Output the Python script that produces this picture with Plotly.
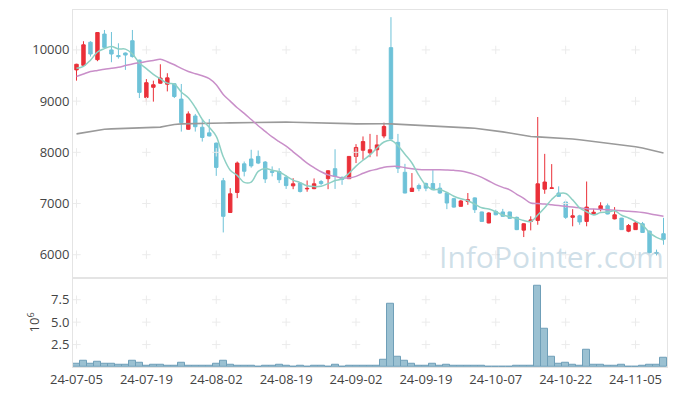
import plotly.graph_objects as go
import pandas as pd

dates = ["24-07-05", "24-07-08", "24-07-09", "24-07-10", "24-07-11", "24-07-12",
         "24-07-15", "24-07-16", "24-07-17", "24-07-18", "24-07-19",
         "24-07-22", "24-07-23", "24-07-24", "24-07-25", "24-07-26",
         "24-07-29", "24-07-30", "24-07-31", "24-08-01", "24-08-02",
         "24-08-05", "24-08-06", "24-08-07", "24-08-08", "24-08-09",
         "24-08-12", "24-08-13", "24-08-14", "24-08-16",
         "24-08-19", "24-08-20", "24-08-21", "24-08-22", "24-08-23",
         "24-08-26", "24-08-27", "24-08-28", "24-08-29", "24-08-30",
         "24-09-02", "24-09-03", "24-09-04", "24-09-05", "24-09-06",
         "24-09-09", "24-09-10", "24-09-11", "24-09-12", "24-09-13",
         "24-09-19", "24-09-20", "24-09-23", "24-09-24", "24-09-25",
         "24-09-26", "24-09-27", "24-09-30", "24-10-02", "24-10-04",
         "24-10-07", "24-10-08", "24-10-10", "24-10-11",
         "24-10-14", "24-10-15", "24-10-16", "24-10-17", "24-10-18",
         "24-10-21", "24-10-22", "24-10-23", "24-10-24", "24-10-25",
         "24-10-28", "24-10-29", "24-10-30", "24-10-31", "24-11-01",
         "24-11-04", "24-11-05", "24-11-06", "24-11-07", "24-11-08", "24-11-11"]

open_ = [9610, 9700, 10150, 9810, 10310, 10000, 9890, 9940, 10180, 9800,
         9070, 9270, 9350, 9330, 9340, 9040, 8450, 8710, 8490, 8380,
         8180, 7445, 6825, 7215, 7775, 7870, 7920, 7810, 7630, 7625,
         7515, 7345, 7400, 7285, 7290, 7430, 7485, 7680, 7510, 7485,
         7920, 8040, 7990, 8050, 8320, 10045, 8195, 7610, 7235, 7350,
         7390, 7390, 7300, 7205, 7095, 6945, 7040, 7110, 6835, 6620,
         6845, 6835, 6835, 6730, 6480, 6650, 6670, 7280, 7295, 7205,
         7030, 6730, 6760, 6650, 6795, 6890, 6955, 6700, 6715, 6460,
         6490, 6605, 6460, 6045, 6410]
high = [9730, 10170, 10170, 10350, 10390, 10350, 10130, 9950, 10390, 9810,
        9430, 9400, 9720, 9545, 9350, 9335, 8800, 8750, 8640, 8650,
        8190, 7500, 7300, 7820, 7820, 8050, 8035, 7830, 7725, 7690,
        7550, 7495, 7420, 7450, 7490, 7460, 7650, 8060, 7530, 7925,
        8160, 8310, 8360, 8340, 8580, 10640, 8360, 7775, 7595, 7390,
        7410, 7660, 7400, 7230, 7110, 7070, 7205, 7120, 6840, 6830,
        6880, 6895, 6840, 6745, 6615, 6750, 8690, 7970, 7770, 7335,
        7040, 6890, 6780, 7430, 6895, 7025, 7000, 6930, 6720, 6600,
        6640, 6640, 6470, 6100, 6720]
low = [9400, 9680, 9870, 9780, 10040, 9760, 9830, 9610, 9850, 9060,
       8985, 8990, 9340, 9190, 9060, 8405, 8440, 8405, 8210, 8310,
       7540, 6435, 6820, 7105, 7530, 7700, 7770, 7400, 7530, 7400,
       7285, 7280, 7215, 7230, 7280, 7360, 7280, 7285, 7365, 7480,
       7790, 7855, 7905, 7920, 8275, 8250, 7595, 7200, 7225, 7240,
       7240, 7260, 7190, 6890, 6920, 6940, 6975, 6815, 6640, 6615,
       6770, 6745, 6705, 6480, 6345, 6475, 6585, 7190, 7290, 7130,
       6700, 6555, 6585, 6555, 6790, 6845, 6790, 6690, 6485, 6440,
       6485, 6430, 6030, 5985, 6195]
close = [9720, 10100, 9920, 10340, 10050, 9920, 9870, 9900, 9870, 9170,
         9360, 9320, 9450, 9455, 9090, 8580, 8750, 8500, 8290, 8320,
         7705, 6750, 7190, 7790, 7630, 7735, 7790, 7480, 7610, 7465,
         7350, 7385, 7235, 7295, 7385, 7390, 7640, 7530, 7470, 7920,
         8095, 8210, 8050, 8145, 8505, 8260, 7690, 7205, 7300, 7290,
         7300, 7270, 7205, 7010, 6930, 7050, 7075, 6880, 6650, 6815,
         6780, 6750, 6710, 6490, 6605, 6680, 7385, 7420, 7305, 7140,
         6730, 6760, 6640, 6930, 6830, 6955, 6795, 6780, 6490, 6570,
         6620, 6435, 6040, 6030, 6300]

# volume in millions of shares
volume = [0.33, 0.7, 0.33, 0.55, 0.33, 0.33, 0.22, 0.22, 0.66, 0.44,
          0.1, 0.2, 0.2, 0.1, 0.1, 0.44, 0.1, 0.1, 0.1, 0.1,
          0.33, 0.7, 0.22, 0.1, 0.1, 0.1, 0.02, 0.1, 0.1, 0.2,
          0.1, 0.02, 0.1, 0.02, 0.1, 0.1, 0.02, 0.2, 0.02, 0.1,
          0.1, 0.1, 0.1, 0.1, 0.8, 7.05, 1.1, 0.7, 0.33, 0.1,
          0.1, 0.33, 0.1, 0.2, 0.1, 0.1, 0.1, 0.1, 0.1, 0.02,
          0.02, 0.02, 0.02, 0.1, 0.1, 0.1, 9.05, 4.3, 1.1, 0.33,
          0.44, 0.2, 0.1, 1.9, 0.2, 0.2, 0.1, 0.1, 0.2, 0.02,
          0.02, 0.1, 0.2, 0.2, 1.0]

# 5-day MA: first four values (need earlier history)
ma5_head = [9640, 9680, 9800, 9960]

ma20 = [9480, 9530, 9577, 9600, 9623, 9640, 9662, 9695, 9727, 9750,
        9772, 9795, 9818, 9770, 9710, 9640, 9580, 9535, 9495, 9440,
        9320, 9130, 9000, 8870, 8760, 8640, 8520, 8410, 8300, 8210,
        8120, 8010, 7900, 7790, 7700, 7620, 7560, 7530, 7500, 7500,
        7530, 7590, 7640, 7670, 7710, 7725, 7725, 7700, 7680, 7665,
        7660, 7660, 7660, 7655, 7648, 7635, 7605, 7565, 7510, 7440,
        7370, 7315, 7268, 7180, 7100, 7010, 7000, 6990, 6975, 6960,
        6945, 6930, 6915, 6900, 6892, 6885, 6878, 6870, 6860, 6848,
        6840, 6825, 6800, 6775, 6750]

ma_long = [8360, 8385, 8410, 8435, 8450, 8458, 8465, 8470, 8475, 8480,
           8484, 8488, 8492, 8520, 8545, 8555, 8560, 8563, 8566, 8568,
           8570, 8572, 8575, 8578, 8580, 8582, 8585, 8587, 8588, 8590,
           8590, 8588, 8586, 8583, 8580, 8576, 8572, 8570, 8565, 8560,
           8555, 8552, 8552, 8555, 8557, 8556, 8550, 8542, 8535, 8527,
           8520, 8512, 8505, 8498, 8492, 8485, 8478, 8470, 8455, 8440,
           8420, 8400, 8378, 8355, 8332, 8310, 8302, 8295, 8288, 8281,
           8275, 8260, 8245, 8230, 8210, 8190, 8175, 8160, 8145, 8125,
           8110, 8085, 8055, 8020, 7985]

price_ticks = [6000, 7000, 8000, 9000, 10000]
vol_ticks = [2.5, 5.0, 7.5]
vol_tick_text = ["2.5", "5.0", "7.5"]
x_ticks = dates[::10]

ma5 = pd.Series(close).rolling(5).mean().tolist()
ma5[:4] = ma5_head

RED = "#ea3039"
BLUE = "#6ec2d8"
GRID = "#ebebeb"
BORDER = "#e4e4e4"
TXT = "#444444"

fig = go.Figure()

# grid "+" marks
gx = [d for d in x_ticks for _ in price_ticks]
gy = [p for _ in x_ticks for p in price_ticks]
fig.add_trace(go.Scatter(x=gx, y=gy, mode="markers", xaxis="x", yaxis="y",
                         marker=dict(symbol="cross-thin", size=6, line=dict(color=GRID, width=1)),
                         hoverinfo="skip", showlegend=False))
gx2 = [d for d in x_ticks for _ in vol_ticks]
gy2 = [v for _ in x_ticks for v in vol_ticks]
fig.add_trace(go.Scatter(x=gx2, y=gy2, mode="markers", xaxis="x2", yaxis="y2",
                         marker=dict(symbol="cross-thin", size=6, line=dict(color=GRID, width=1)),
                         hoverinfo="skip", showlegend=False))

fig.add_trace(go.Scatter(x=dates, y=ma_long, mode="lines", xaxis="x", yaxis="y",
                         line=dict(color="#9a9a9a", width=1.6), showlegend=False))
fig.add_trace(go.Scatter(x=dates, y=ma20, mode="lines", xaxis="x", yaxis="y",
                         line=dict(color="#c98fc9", width=1.5, shape="spline"), showlegend=False))
fig.add_trace(go.Scatter(x=dates, y=ma5, mode="lines", xaxis="x", yaxis="y",
                         line=dict(color="#8ed0c4", width=1.5, shape="spline"), showlegend=False))

fig.add_trace(go.Candlestick(x=dates, open=open_, high=high, low=low, close=close,
                             xaxis="x", yaxis="y",
                             increasing=dict(line=dict(color=RED, width=1), fillcolor=RED),
                             decreasing=dict(line=dict(color=BLUE, width=1), fillcolor=BLUE),
                             showlegend=False))

fig.add_trace(go.Bar(x=dates, y=volume, xaxis="x2", yaxis="y2",
                     marker=dict(color="#9bc1d2", line=dict(color="#6f9fb8", width=1)),
                     showlegend=False))

fig.add_annotation(text="InfoPointer.com", xref="paper", yref="paper",
                   x=0.805, y=0.31, xanchor="center", yanchor="middle", showarrow=False,
                   font=dict(family="Open Sans", size=30, color="rgba(160,192,210,0.5)"))

fig.update_layout(
    width=677, height=396,
    margin=dict(l=73, r=10, t=10, b=29, autoexpand=False),
    paper_bgcolor="white", plot_bgcolor="white",
    font=dict(family="Open Sans", size=13, color=TXT),
    bargap=0,
    xaxis=dict(type="category", categoryorder="array", categoryarray=dates,
               range=[-0.5, 84.5], domain=[0, 1], anchor="y", automargin=False,
               showticklabels=False, showgrid=False, showline=True, mirror=True,
               linecolor=BORDER, linewidth=1, rangeslider=dict(visible=False),
               tickvals=x_ticks, ticks=""),
    yaxis=dict(domain=[0.25, 1], range=[5550, 10780], tickvals=price_ticks,
               tickformat="d", automargin=False,
               showgrid=False, zeroline=False, showline=True, mirror=True,
               linecolor=BORDER, linewidth=1, ticks=""),
    xaxis2=dict(type="category", categoryorder="array", categoryarray=dates,
                range=[-0.5, 84.5], domain=[0, 1], anchor="y2", automargin=False,
                tickvals=x_ticks, tickangle=0, showgrid=False, showline=True, mirror=True,
                linecolor=BORDER, linewidth=1, ticks="", rangeslider=dict(visible=False)),
    yaxis2=dict(domain=[0, 0.25], range=[0, 9.95], tickvals=vol_ticks, ticktext=vol_tick_text,
                automargin=False,
                showgrid=False, zeroline=False, showline=True, mirror=True,
                linecolor=BORDER, linewidth=1, ticks="",
                title=dict(text="10<sup>6</sup>", standoff=8, font=dict(size=13, color=TXT))),
)

fig.write_html("out.html", config={"displayModeBar": False},
               post_script="document.body.style.margin='0';")
